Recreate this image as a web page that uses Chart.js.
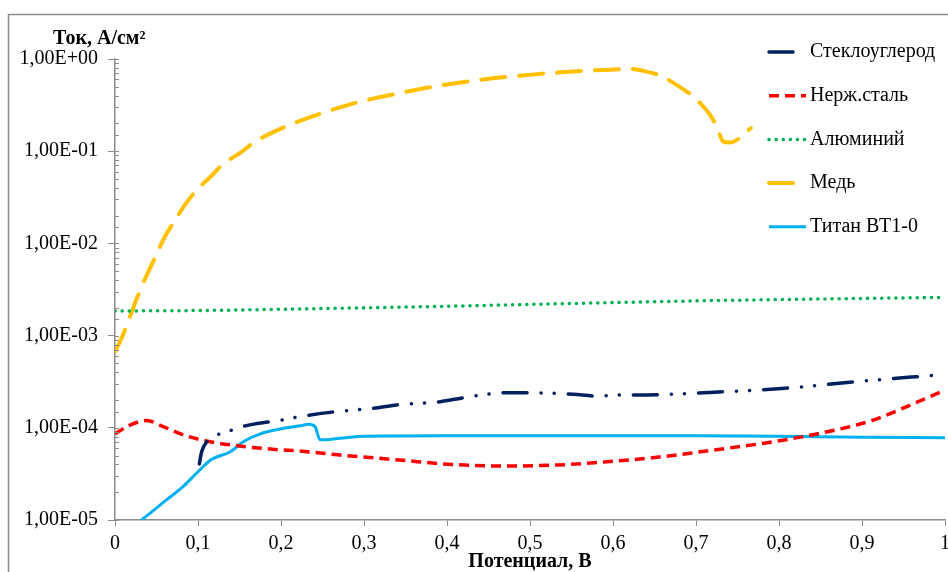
<!DOCTYPE html>
<html>
<head>
<meta charset="utf-8">
<script src="https://cdn.jsdelivr.net/npm/chart.js@4.4.0/dist/chart.umd.min.js"></script>
<style>
  body { margin: 0; background: #fff; }
  canvas { display: block; }
</style>
</head>
<body>
<canvas id="myChart" width="948" height="572"></canvas>
<script>
// series names (legend order)
const names = ['Стеклоуглерод', 'Нерж.сталь', 'Алюминий', 'Медь', 'Титан ВТ1-0'];

// potential, V  /  current, A/cm2
const carbonX = [0.1016, 0.1044, 0.111, 0.126, 0.142, 0.157, 0.185, 0.202, 0.218, 0.259, 0.311, 0.339, 0.392, 0.42, 0.472, 0.5, 0.552, 0.58, 0.612, 0.63, 0.722, 0.807, 0.891, 0.992];
const carbonY = [4.05e-5, 5.5e-5, 7.1e-5, 8.6e-5, 9.5e-5, 1.05e-4, 1.16e-4, 1.22e-4, 1.3e-4, 1.47e-4, 1.63e-4, 1.77e-4, 1.92e-4, 2.12e-4, 2.4e-4, 2.4e-4, 2.31e-4, 2.21e-4, 2.27e-4, 2.27e-4, 2.43e-4, 2.68e-4, 3.16e-4, 3.74e-4];

const steelX = [0, 0.018, 0.038, 0.058, 0.082, 0.11, 0.15, 0.19, 0.223, 0.271, 0.343, 0.406, 0.47, 0.533, 0.596, 0.659, 0.722, 0.786, 0.849, 0.912, 0.954, 1.0];
const steelY = [8.6e-5, 1.07e-4, 1.2e-4, 1.03e-4, 8.4e-5, 7.2e-5, 6.35e-5, 5.85e-5, 5.6e-5, 5.07e-5, 4.47e-5, 4.0e-5, 3.85e-5, 3.95e-5, 4.3e-5, 4.86e-5, 5.75e-5, 6.9e-5, 8.7e-5, 1.2e-4, 1.7e-4, 2.57e-4];

const alX = [0, 0.1, 0.2, 0.3, 0.4, 0.5, 0.6, 0.7, 0.8, 0.9, 1.0];
const alY = [1.85e-3, 1.87e-3, 1.93e-3, 2.0e-3, 2.08e-3, 2.18e-3, 2.28e-3, 2.38e-3, 2.46e-3, 2.53e-3, 2.6e-3];

const cuX = [0, 0.006, 0.012, 0.022, 0.028, 0.04, 0.048, 0.06, 0.07, 0.084, 0.095, 0.117, 0.129, 0.153, 0.166, 0.205, 0.25, 0.295, 0.339, 0.383, 0.429, 0.475, 0.521, 0.567, 0.608, 0.62, 0.64, 0.657, 0.683, 0.697, 0.717, 0.725, 0.733, 0.741, 0.757, 0.766];
const cuY = [6.7e-4, 8.6e-4, 1.15e-3, 2.0e-3, 2.75e-3, 4.9e-3, 6.9e-3, 0.0118, 0.0165, 0.026, 0.035, 0.055, 0.071, 0.099, 0.122, 0.184, 0.26, 0.344, 0.42, 0.50, 0.577, 0.643, 0.70, 0.747, 0.773, 0.78, 0.73, 0.66, 0.48, 0.39, 0.247, 0.184, 0.127, 0.124, 0.15, 0.178];

const tiX = [0.032, 0.062, 0.082, 0.098, 0.1165, 0.139, 0.155, 0.175, 0.199, 0.223, 0.233, 0.241, 0.247, 0.271, 0.3, 0.4, 0.5, 0.6, 0.7, 0.8, 0.9, 1.0];
const tiY = [1.0e-5, 1.65e-5, 2.3e-5, 3.2e-5, 4.55e-5, 5.5e-5, 7.1e-5, 8.6e-5, 9.7e-5, 1.05e-4, 1.09e-4, 1.03e-4, 7.4e-5, 7.7e-5, 8.1e-5, 8.2e-5, 8.2e-5, 8.2e-5, 8.2e-5, 8.1e-5, 7.9e-5, 7.8e-5];

const yTitle = 'Ток, А/см²';
const xTitle = 'Потенциал, В';

function pts(xs, ys) {
    return xs.map((x, i) => ({ x: x, y: ys[i] }));
}

function isPow10(v) {
    const e = Math.log10(v);
    return Math.abs(e - Math.round(e)) < 1e-6;
}

const axisGrey = '#8c8c8c';
const serif = "'Liberation Serif', 'Times New Roman', serif";

Chart.defaults.font.family = serif;
Chart.defaults.font.size = 20;
Chart.defaults.color = '#000';

const datasets = [
    { label: names[0], data: pts(carbonX, carbonY), borderColor: '#002060', borderWidth: 3.5, borderDash: [24, 14, 0.1, 13, 0.1, 14], borderCapStyle: 'round' },
    { label: names[1], data: pts(steelX, steelY), borderColor: '#ff0000', borderWidth: 3.5, borderDash: [10, 6], borderCapStyle: 'butt' },
    { label: names[2], data: pts(alX, alY), borderColor: '#00b050', borderWidth: 3.5, borderDash: [0.1, 7], borderCapStyle: 'round' },
    { label: names[3], data: pts(cuX, cuY), borderColor: '#ffc000', borderWidth: 4, borderDash: [24, 14], borderCapStyle: 'round' },
    { label: names[4], data: pts(tiX, tiY), borderColor: '#00b0f0', borderWidth: 3, borderDash: [], borderCapStyle: 'butt' }
];
datasets.forEach(d => {
    d.pointRadius = 0;
    d.fill = false;
    d.cubicInterpolationMode = 'monotone';
});

// frame, y title, minor ticks and legend inside the plot
const extras = {
    id: 'extras',
    beforeDraw(chart) {
        const ctx = chart.ctx;
        ctx.save();
        ctx.strokeStyle = '#8c8c8c';
        ctx.lineWidth = 1.5;
        ctx.beginPath();
        ctx.moveTo(8.5, 572);
        ctx.lineTo(8.5, 14.5);
        ctx.lineTo(948, 14.5);
        ctx.stroke();
        ctx.restore();
    },
    afterDraw(chart) {
        const ctx = chart.ctx;
        const y = chart.scales.y;
        const area = chart.chartArea;
        ctx.save();
        ctx.strokeStyle = axisGrey;
        ctx.lineWidth = 1;
        y.ticks.forEach(t => {
            const py = Math.round(y.getPixelForValue(t.value)) + 0.5;
            ctx.beginPath();
            ctx.moveTo(area.left, py);
            ctx.lineTo(area.left + 4, py);
            ctx.stroke();
        });

        ctx.fillStyle = '#000';
        ctx.font = 'bold 20px ' + serif;
        ctx.textBaseline = 'alphabetic';
        ctx.textAlign = 'left';
        ctx.fillText(yTitle, 53, 44);

        ctx.font = '20px ' + serif;
        ctx.textBaseline = 'middle';
        chart.data.datasets.forEach((d, i) => {
            const ly = 52 + i * 43.7;
            ctx.strokeStyle = d.borderColor;
            ctx.lineWidth = d.borderWidth;
            ctx.lineCap = d.borderCapStyle;
            ctx.setLineDash(d.borderDash);
            ctx.beginPath();
            ctx.moveTo(769, ly);
            ctx.lineTo(806, ly);
            ctx.stroke();
            ctx.setLineDash([]);
            ctx.fillText(d.label, 810, ly);
        });
        ctx.restore();
    }
};

new Chart(document.getElementById('myChart'), {
    type: 'line',
    data: { datasets: datasets },
    options: {
        responsive: false,
        animation: false,
        devicePixelRatio: 1,
        layout: { padding: { top: 59, right: 3, left: 0, bottom: 0 } },
        plugins: {
            legend: { display: false },
            tooltip: { enabled: false }
        },
        scales: {
            x: {
                type: 'linear',
                min: 0,
                max: 1,
                ticks: {
                    stepSize: 0.1,
                    padding: 6,
                    callback: v => (Math.round(v * 10) / 10).toString().replace('.', ',')
                },
                grid: { drawOnChartArea: false, drawTicks: true, tickLength: 6, color: axisGrey },
                border: { display: true, color: axisGrey, width: 1.5 },
                title: { display: true, text: xTitle, font: { weight: 'bold', size: 20, lineHeight: 1 }, padding: { top: 0, bottom: 0 } },
                afterFit(scale) {
                    scale.height = 52;
                    scale.paddingLeft = 0;
                    scale.paddingRight = 0;
                }
            },
            y: {
                type: 'logarithmic',
                min: 1e-5,
                max: 1,
                ticks: {
                    autoSkip: false,
                    padding: 10,
                    callback: v => {
                        if (!isPow10(v)) return '';
                        const e = Math.round(Math.log10(v));
                        const s = String(Math.abs(e)).padStart(2, '0');
                        return '1,00E' + (e < 0 ? '-' : '+') + s;
                    }
                },
                grid: {
                    drawOnChartArea: false,
                    drawTicks: true,
                    tickLength: 7,
                    color: ctx => (ctx.tick && isPow10(ctx.tick.value)) ? axisGrey : 'rgba(0,0,0,0)'
                },
                border: { display: true, color: axisGrey, width: 1.5 },
                afterFit(scale) {
                    scale.width = 115;
                    scale.paddingTop = 0;
                    scale.paddingBottom = 0;
                }
            }
        }
    },
    plugins: [extras]
});
</script>
</body>
</html>
